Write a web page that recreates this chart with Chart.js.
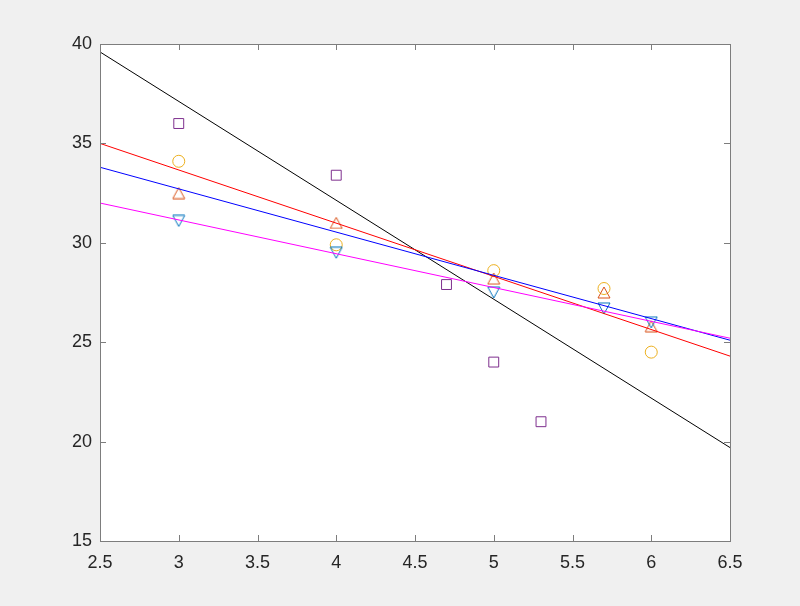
<!DOCTYPE html>
<html>
<head>
<meta charset="utf-8">
<script src="https://cdn.jsdelivr.net/npm/chart.js@4/dist/chart.umd.min.js"></script>
<style>
  html, body { margin: 0; padding: 0; background: #f0f0f0; }
  canvas { display: block; }
</style>
</head>
<body>
<canvas id="c" width="800" height="606"></canvas>
<script>
// ---- data ----
const xTickValues = [2.5, 3, 3.5, 4, 4.5, 5, 5.5, 6, 6.5];
const xTickLabels = ['2.5', '3', '3.5', '4', '4.5', '5', '5.5', '6', '6.5'];
const yTickValues = [15, 20, 25, 30, 35, 40];
const yTickLabels = ['15', '20', '25', '30', '35', '40'];

const squareX = [3, 4, 4.7, 5, 5.3];
const squareY = [36.0, 33.4, 27.9, 24.0, 21.0];

const markerX = [3, 4, 5, 5.7, 6];
const circleY = [34.1, 29.9, 28.6, 27.7, 24.5];
const upTriY = [32.5, 31.0, 28.2, 27.5, 25.8];
const downTriY = [31.1, 29.5, 27.5, 26.7, 26.0];

const lineX = [2.5, 6.5];
const blackLineY = [39.6, 19.7];
const redLineY = [35.0, 24.3];
const blueLineY = [33.8, 25.1];
const magentaLineY = [32.0, 25.2];

const toPts = (xs, ys) => xs.map((x, i) => ({ x: x, y: ys[i] }));

// triangle marker image centred on its bounding box (MATLAB style)
function triMarker(color, up) {
  const c = document.createElement('canvas');
  c.width = 14; c.height = 13;
  const g = c.getContext('2d');
  g.strokeStyle = color;
  g.lineWidth = 1;
  g.beginPath();
  if (up) {
    g.moveTo(7, 1); g.lineTo(13, 12); g.lineTo(1, 12);
  } else {
    g.moveTo(1, 1); g.lineTo(13, 1); g.lineTo(7, 12);
  }
  g.closePath();
  g.stroke();
  return c;
}

function lineSet(ys, color, order) {
  return {
    data: toPts(lineX, ys),
    showLine: true,
    borderColor: color,
    backgroundColor: color,
    borderWidth: 1,
    pointRadius: 0,
    pointHoverRadius: 0,
    fill: false,
    order: order
  };
}
function markerSet(xs, ys, color, style, radius, order) {
  return {
    data: toPts(xs, ys),
    showLine: false,
    borderColor: color,
    backgroundColor: 'rgba(0,0,0,0)',
    pointStyle: style,
    pointRadius: radius,
    pointHoverRadius: radius,
    pointBorderColor: color,
    pointHoverBorderColor: color,
    pointBackgroundColor: 'rgba(0,0,0,0)',
    pointBorderWidth: 1,
    order: order
  };
}

const frame = {
  id: 'frame',
  beforeDraw(chart) {
    const { ctx, chartArea: a } = chart;
    ctx.save();
    ctx.fillStyle = '#f0f0f0';
    ctx.fillRect(0, 0, chart.width, chart.height);
    ctx.fillStyle = '#ffffff';
    ctx.fillRect(a.left, a.top, a.right - a.left, a.bottom - a.top);
    ctx.restore();
  },
  afterDraw(chart) {
    const { ctx, chartArea: a, scales } = chart;
    const tl = 6;
    ctx.save();
    ctx.strokeStyle = '#7d7d7d';
    ctx.lineWidth = 1;
    ctx.beginPath();
    xTickValues.forEach(v => {
      const px = Math.round(scales.x.getPixelForValue(v)) + 0.5;
      ctx.moveTo(px, a.bottom); ctx.lineTo(px, a.bottom - tl);
      ctx.moveTo(px, a.top); ctx.lineTo(px, a.top + tl);
    });
    yTickValues.forEach(v => {
      const py = Math.round(scales.y.getPixelForValue(v)) + 0.5;
      ctx.moveTo(a.left, py); ctx.lineTo(a.left + tl, py);
      ctx.moveTo(a.right, py); ctx.lineTo(a.right - tl, py);
    });
    ctx.stroke();
    ctx.strokeRect(Math.round(a.left) + 0.5, Math.round(a.top) + 0.5,
                   Math.round(a.right - a.left), Math.round(a.bottom - a.top));
    ctx.restore();
  }
};

const tickFont = { family: "'Liberation Sans', Arial, sans-serif", size: 18 };

new Chart(document.getElementById('c'), {
  type: 'scatter',
  data: {
    datasets: [
      markerSet(squareX, squareY, '#7e2f8e', 'rect', 7, 8),
      markerSet(markerX, circleY, '#edb120', 'circle', 6, 7),
      markerSet(markerX, upTriY, '#d95319', triMarker('#d95319', true), 7, 6),
      markerSet(markerX, downTriY, '#0072bd', triMarker('#0072bd', false), 7, 5),
      lineSet(blackLineY, '#000000', 4),
      lineSet(redLineY, '#ff0000', 3),
      lineSet(blueLineY, '#0000ff', 2),
      lineSet(magentaLineY, '#ff00ff', 1)
    ]
  },
  options: {
    responsive: false,
    animation: false,
    events: [],
    layout: { padding: { top: 44, right: 70, left: 0, bottom: 0 } },
    plugins: { legend: { display: false }, tooltip: { enabled: false } },
    scales: {
      x: {
        type: 'linear',
        min: 2.5, max: 6.5,
        afterBuildTicks: s => { s.ticks = xTickValues.map(v => ({ value: v })); },
        afterFit: s => { s.height = 65; },
        grid: { display: false, drawTicks: false },
        border: { display: false },
        ticks: {
          padding: 11,
          color: '#262626',
          font: tickFont,
          maxRotation: 0,
          autoSkip: false,
          callback: (v, i) => xTickLabels[i]
        }
      },
      y: {
        type: 'linear',
        min: 15, max: 40,
        afterBuildTicks: s => { s.ticks = yTickValues.map(v => ({ value: v })); },
        afterFit: s => { s.width = 100; },
        grid: { display: false, drawTicks: false },
        border: { display: false },
        ticks: {
          padding: 8,
          color: '#262626',
          font: tickFont,
          autoSkip: false,
          callback: (v, i) => yTickLabels[i]
        }
      }
    }
  },
  plugins: [frame]
});
</script>
</body>
</html>
